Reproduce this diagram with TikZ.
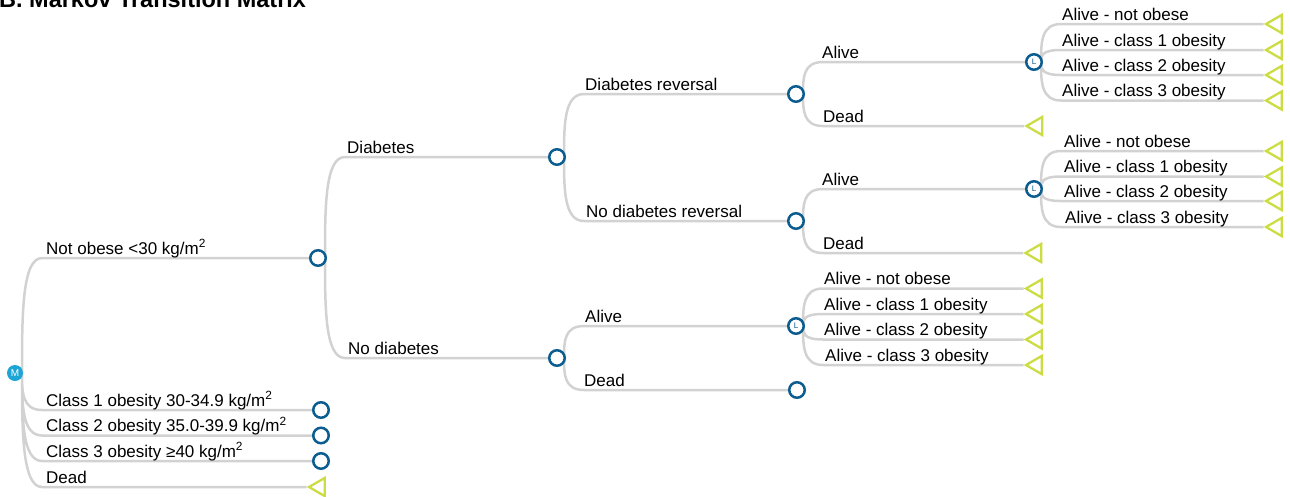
\documentclass[tikz,border=0pt]{standalone}
\usepackage{fontspec}
\setmainfont{Liberation Sans}
\usetikzlibrary{calc,shapes.geometric}
\pgfdeclarelayer{bg}
\pgfsetlayers{bg,main}
\definecolor{chanceblue}{HTML}{0B5C8F}
\definecolor{markovcyan}{HTML}{1DA5D5}
\definecolor{termgreen}{HTML}{CCDD44}
\definecolor{linegray}{HTML}{D2D2D2}
\begin{document}
\begin{tikzpicture}[x=1pt,y=-1pt,
  every node/.style={font=\fontsize{17}{19}\selectfont},
  chance/.style={circle,draw=chanceblue,line width=2.5pt,fill=white,minimum size=15.5pt,inner sep=0pt},
  lnode/.style={chance,label={[inner sep=0pt,font=\fontsize{8}{8}\selectfont,text=chanceblue]center:L}},
  mnode/.style={circle,fill=markovcyan,minimum size=16pt,inner sep=0pt,
    label={[inner sep=0pt,font=\fontsize{10}{10}\selectfont,text=white]center:M}},
  term/.style={regular polygon,regular polygon sides=3,shape border rotate=90,draw=termgreen,line width=2.3pt,fill=white,minimum size=21pt,inner sep=0pt},
  lbl/.style={anchor=base west,inner sep=0pt},
  br/.style={draw=linegray,line width=2.5pt,line join=round,
    to path={let \p1=(\tikztostart),\p2=(\tikztotarget) in
      (\x1+7pt,\y1) .. controls (\x1+7pt,{(\y1+\y2)/2}) and (\x1+7pt,\y2) .. (\x1+27pt,\y2) -- (\tikztotarget)}}
]
\useasboundingbox (0,0) rectangle (1290,496);

% title (cut at top in the reference)
\node[anchor=base west,inner sep=0pt,font=\fontsize{23.5}{25}\selectfont\bfseries] (title) at (-1,7) {B. Markov Transition Matrix};

% decision / chance nodes
\node[mnode] (m) at (15,373) {};
\node[chance] (c1) at (318,258) {};
\node[chance] (k1) at (321,410) {};
\node[chance] (k2) at (321,435.5) {};
\node[chance] (k3) at (321,461) {};
\node[term] (td0) at (319.5,487) {};

\node[chance] (c2) at (557,157) {};
\node[chance] (c3) at (557,358) {};

\node[chance] (c4) at (796,94) {};
\node[chance] (c5) at (796,221) {};
\node[lnode] (l3) at (796,326) {};
\node[chance] (c6) at (797,390) {};

\node[lnode] (l1) at (1034,62) {};
\node[term] (td1) at (1037,126) {};
\node[lnode] (l2) at (1034,189) {};
\node[term] (td2) at (1036,253) {};

\node[term] (ta1) at (1276.5,24) {};
\node[term] (ta2) at (1276.5,50) {};
\node[term] (ta3) at (1276.5,75) {};
\node[term] (ta4) at (1276.5,100.5) {};

\node[term] (tb1) at (1276.5,151) {};
\node[term] (tb2) at (1276.5,176.5) {};
\node[term] (tb3) at (1276.5,201) {};
\node[term] (tb4) at (1276.5,227) {};

\node[term] (tc1) at (1036.5,288.5) {};
\node[term] (tc2) at (1036.5,314) {};
\node[term] (tc3) at (1036.5,339.5) {};
\node[term] (tc4) at (1036.5,365) {};

% connectors
\begin{pgfonlayer}{bg}
\path[br] (m) to (c1) (m) to (k1) (m) to (k2) (m) to (k3) (m) to (td0);
\path[br] (c1) to (c2) (c1) to (c3);
\path[br] (c2) to (c4) (c2) to (c5);
\path[br] (c3) to (l3) (c3) to (c6);
\path[br] (c4) to (l1) (c4) to (td1);
\path[br] (c5) to (l2) (c5) to (td2);
\path[br] (l1) to (ta1) (l1) to (ta2) (l1) to (ta3) (l1) to (ta4);
\path[br] (l2) to (tb1) (l2) to (tb2) (l2) to (tb3) (l2) to (tb4);
\path[br] (l3) to (tc1) (l3) to (tc2) (l3) to (tc3) (l3) to (tc4);
\end{pgfonlayer}

% labels
\node[lbl] (t1) at (46,254) {Not obese <30 kg/m\textsuperscript{2}};
\node[lbl] (t2) at (46,406) {Class 1 obesity 30-34.9 kg/m\textsuperscript{2}};
\node[lbl] (t3) at (46,431.5) {Class 2 obesity 35.0-39.9 kg/m\textsuperscript{2}};
\node[lbl] (t4) at (46,457) {Class 3 obesity ≥40 kg/m\textsuperscript{2}};
\node[lbl] (t5) at (46,483) {Dead};

\node[lbl] (t6) at (347,153) {Diabetes};
\node[lbl] (t7) at (348,354) {No diabetes};

\node[lbl] (t8) at (585,90) {Diabetes reversal};
\node[lbl] (t9) at (586,217) {No diabetes reversal};
\node[lbl] (t10) at (585,322) {Alive};
\node[lbl] (t11) at (584,386) {Dead};

\node[lbl] (t12) at (822,58) {Alive};
\node[lbl] (t13) at (823,122) {Dead};
\node[lbl] (t14) at (822,185) {Alive};
\node[lbl] (t15) at (823,249) {Dead};

\node[lbl] (u1) at (1062,20) {Alive - not obese};
\node[lbl] (u2) at (1062,46) {Alive - class 1 obesity};
\node[lbl] (u3) at (1062,71) {Alive - class 2 obesity};
\node[lbl] (u4) at (1062,96.5) {Alive - class 3 obesity};

\node[lbl] (v1) at (1064,147) {Alive - not obese};
\node[lbl] (v2) at (1064,172.5) {Alive - class 1 obesity};
\node[lbl] (v3) at (1064,197) {Alive - class 2 obesity};
\node[lbl] (v4) at (1065,223) {Alive - class 3 obesity};

\node[lbl] (w1) at (824,284.5) {Alive - not obese};
\node[lbl] (w2) at (824,310) {Alive - class 1 obesity};
\node[lbl] (w3) at (824,335.5) {Alive - class 2 obesity};
\node[lbl] (w4) at (825,361) {Alive - class 3 obesity};
\end{tikzpicture}
\end{document}
